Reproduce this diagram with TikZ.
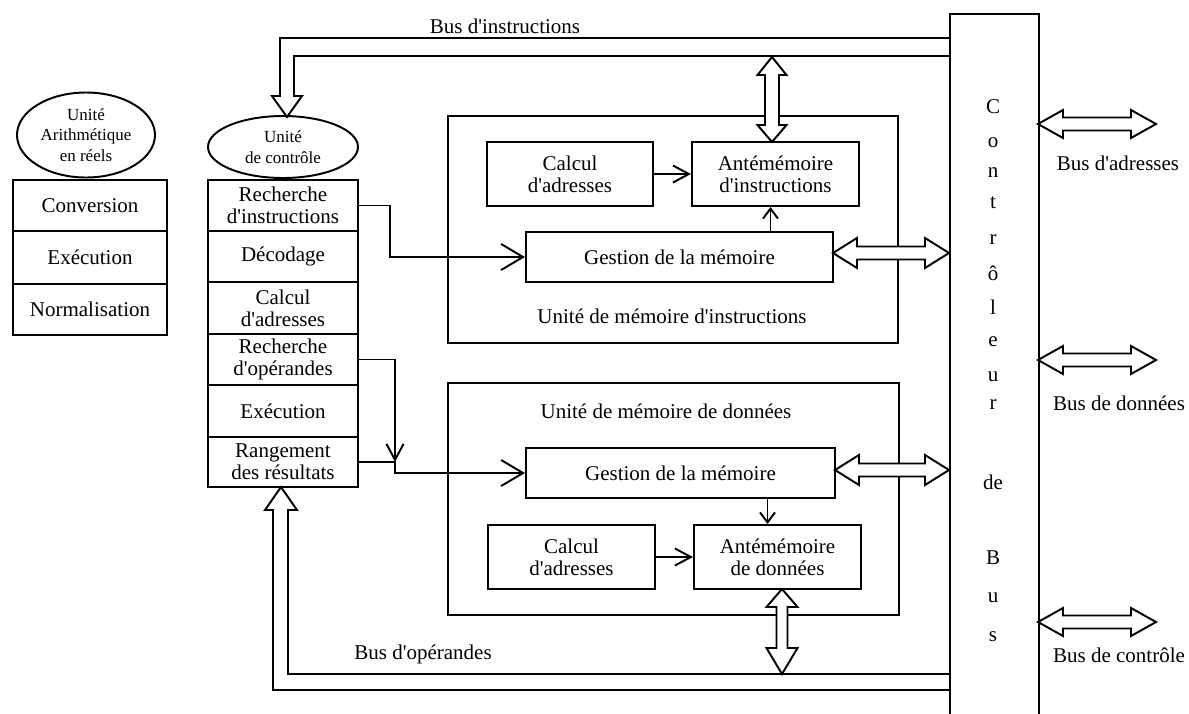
\documentclass[tikz,border=0pt]{standalone}
\usepackage{fontspec}
\setmainfont[Ligatures=TeXOff]{Liberation Serif}
\usetikzlibrary{arrows.meta,shapes.geometric}
% box from corners: name, x1, y1, x2, y2, text
\newcommand\bx[6]{\node[bx, minimum width={#4-#2}, minimum height={#5-#3}] (#1) at ({(#2+#4)/2},{(#3+#5)/2}) {#6};}
% horizontal hollow double arrow: left tip x, right tip x, y, head length, head half, shaft half
\newcommand\hdbl[6]{\draw[fat] (#1,#3) -- ({#1+#4},{#3-#5}) -- ({#1+#4},{#3-#6}) -- ({#2-#4},{#3-#6}) -- ({#2-#4},{#3-#5}) -- (#2,#3) -- ({#2-#4},{#3+#5}) -- ({#2-#4},{#3+#6}) -- ({#1+#4},{#3+#6}) -- ({#1+#4},{#3+#5}) -- cycle;}
% vertical hollow double arrow: x, top tip y, bottom tip y, top head length, bottom head length, head half, shaft half
\newcommand\vdbl[7]{\draw[fat] (#1,#2) -- ({#1+#6},{#2+#4}) -- ({#1+#7},{#2+#4}) -- ({#1+#7},{#3-#5}) -- ({#1+#6},{#3-#5}) -- (#1,#3) -- ({#1-#6},{#3-#5}) -- ({#1-#7},{#3-#5}) -- ({#1-#7},{#2+#4}) -- ({#1-#6},{#2+#4}) -- cycle;}
\begin{document}
\begin{tikzpicture}[x=1pt,y=-1pt,line width=1.95pt,
  bx/.style={draw, rectangle, inner sep=0pt, align=center, font=\fontsize{21}{22}\selectfont},
  ell/.style={draw, ellipse, inner sep=0pt, align=center, font=\fontsize{17}{20.5}\selectfont},
  lbl/.style={inner sep=0pt, font=\fontsize{21}{22}\selectfont},
  fat/.style={draw, fill=white, line join=miter},
  bigtip/.style={-{Straight Barb[length=22pt,width=26pt]}},
  midtip/.style={-{Straight Barb[length=16pt,width=17pt]}},
  smalltip/.style={-{Straight Barb[length=10pt,width=15pt]}}]
\useasboundingbox (0,0) rectangle (1189,713);

% floating point unit
\node[ell, minimum width=138pt, minimum height=85pt] (ua) at (86,135) {Unité\\Arithmétique\\en réels};
\bx{conv}{13}{180}{167}{231}{Conversion}
\bx{exa}{13}{231}{167}{284}{Exécution}
\bx{norm}{13}{284}{167}{335}{Normalisation}

% control unit
\node[ell, minimum width=150pt, minimum height=62pt] (uc) at (283,147) {Unité\\de contrôle};
\bx{ri}{208}{180}{358}{231}{Recherche\\d'instructions}
\bx{dec}{208}{231}{358}{282}{Décodage}
\bx{ca}{208}{282}{358}{334}{Calcul\\d'adresses}
\bx{ro}{208}{334}{358}{385}{Recherche\\d'opérandes}
\bx{ex}{208}{385}{358}{437}{Exécution}
\bx{rr}{208}{437}{358}{487}{Rangement\\des résultats}

% instruction memory unit
\bx{imu}{448}{116}{898}{343}{}
\node[lbl] (imulbl) at (672,316) {Unité de mémoire d'instructions};
\bx{cai}{487}{142}{653}{206}{Calcul\\d'adresses}
\bx{ami}{692}{142}{859}{206}{Antémémoire\\d'instructions}
\bx{gmi}{526}{232}{833}{282}{Gestion de la mémoire}

% data memory unit
\bx{dmu}{448}{383}{899}{615}{}
\node[lbl] (dmulbl) at (666,411) {Unité de mémoire de données};
\bx{gmd}{526}{448}{835}{498}{Gestion de la mémoire}
\bx{cad}{488}{525}{655}{589}{Calcul\\d'adresses}
\bx{amd}{694}{525}{861}{589}{Antémémoire\\de données}

% bus controller
\node[draw, inner sep=0pt, minimum width=89pt, minimum height=740pt, anchor=north west] (ctrl) at (949,13) {};
\foreach \ch/\yy [count=\i] in {C/107,o/143,n/173,t/203,r/240,ô/273,l/307,e/342,u/377,r/405,de/482,B/558,u/598,s/637}
  \node[lbl] (cl\i) at (993,\yy) {\ch};

% internal arrows
\coordinate (j) at (395,462);
\draw[bigtip] (ri.east) -- ++(31,0) |- (gmi.west);
\draw[midtip] (ro.east) -| (j);
\draw[bigtip] (rr.east) -- (j) |- (gmd.west);
\draw[midtip] (cai.east) -- (ami.west);
\draw[smalltip] ([xshift=-5pt]ami.south |- gmi.north) -- ([xshift=-5pt]ami.south);
\draw[midtip] (cad.east) -- (amd.west);
\draw[smalltip] ([xshift=-10pt]amd.north |- gmd.south) -- ([xshift=-10pt]amd.north);

% instruction bus
\draw[line join=miter] (949,38) -- (280,38) -- (280,96) -- (272,96) -- (287,117) -- (302,96) -- (294,96) -- (294,56) -- (949,56);
\node[lbl] (bilbl) at (505,26) {Bus d'instructions};
% operand bus
\draw[line join=miter] (949,690) -- (273,690) -- (273,510) -- (265,510) -- (281,487) -- (297,510) -- (288,510) -- (288,674) -- (949,674);
\node[lbl] (bolbl) at (423,654) {Bus d'opérandes};

% hollow double arrows
\vdbl{772}{57}{142}{18}{17}{14.5}{7}
\vdbl{782}{589}{674}{18}{26}{15.5}{5.5}
\hdbl{833}{949}{253}{24}{15}{6.5}
\hdbl{835}{949}{470}{24}{15}{6.5}
\hdbl{1038}{1156}{124}{25}{14}{6.5}
\hdbl{1038}{1156}{360}{25}{14}{6.5}
\hdbl{1038}{1156}{622}{25}{14}{6.5}
\node[lbl] (bad) at (1118,163) {Bus d'adresses};
\node[lbl] (bdo) at (1119,403) {Bus de données};
\node[lbl] (bco) at (1119,655) {Bus de contrôle};
\end{tikzpicture}
\end{document}
